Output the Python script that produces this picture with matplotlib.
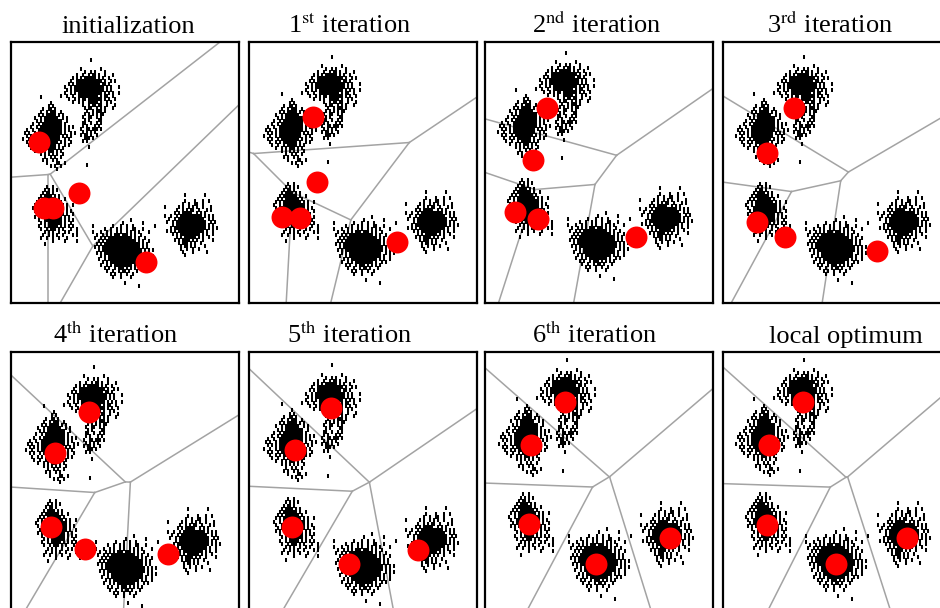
import matplotlib
matplotlib.use('Agg')
import matplotlib.pyplot as plt
import numpy as np

plt.rcParams['font.family'] = ['Liberation Serif', 'DejaVu Serif']
plt.rcParams['mathtext.fontset'] = 'stix'

# point clouds, read off the picture as a rough bitmap: '|' = one dash
# every cell is 2 px wide, 3 px tall, origin given per cluster
TOP_ORIGIN = (50, 15)
TOP = [
    "                              ",
    "               |              ",
    "                              ",
    "                              ",
    "          |         |         ",
    "            |  | |    |       ",
    "        |  |  | || |  |   |   ",
    "      | | | |||||| | |  |     ",
    "     |  ||||||||||||| |  | |  ",
    "    | | |||||||||||| || |     ",
    "  |  | ||||||||||||||| | |   |",
    "   | | ||||||||||||||| | |    ",
    "  |  | | |||||||||||| | | |  |",
    "|  |  |  |||||||||| | ||  |   ",
    "    |  | | || ||||||| | |  |  ",
    "      |  | |  ||||| |  | |    ",
    "           |  | || ||  |   |  ",
    "            | ||  | | |   |   ",
    "             |  | ||| |       ",
    "            | | | | ||        ",
    "           |  ||  | |         ",
    "            | |    ||         ",
    "           ||  |  | |         ",
    "           | |   | |          ",
    "          |  || ||| |         ",
    "           | | | |            ",
    "          | || |  |           ",
    "            ||| |             ",
    "           | |                ",
    "                              ",
    "              |               ",
    "                              ",
    "                              ",
    "                              ",
    "                              ",
    "                              ",
    "             |                ",
]

LEFT_ORIGIN = (12, 55)
LEFT = [
    "         |                 ",
    "                           ",
    "              |            ",
    "             | |           ",
    "          |  || |          ",
    "         |  | |||  |       ",
    "        | | ||||| | |      ",
    "      |  | |||||||  | |    ",
    "       | | |||||||||  |    ",
    "     |  | |||||||||| |     ",
    "    |  | ||||||||||| | | | ",
    "  |  |  |||||||||||| | |   ",
    " | |  | |||||||||||| |  | |",
    "  | | | ||||||||||| | | |  ",
    "|  |  | |||||||||||  | |   ",
    "  | |  | ||||||||| | |  |  ",
    "   |  | | ||||||| |  | |   ",
    "    |  |  | ||||| | |      ",
    "      |  | | ||| | |       ",
    "         | | | | |  |      ",
    "           |  | |  |       ",
    "          | |  | |         ",
    "            |    ||  |     ",
    "              | |  |       ",
    "                 |         ",
]

LOWL_ORIGIN = (22, 145)
LOWL = [
    "       |  |              ",
    "      | | | |            ",
    "     | || |              ",
    "    | |||| | |           ",
    "   | ||||||| |  |        ",
    "  | | ||||||| |          ",
    " | | ||||||||| | |  |    ",
    "|  | ||||||||||| |       ",
    " |  |||||||||||| | |     ",
    "  | |||||||||||| |  |    ",
    " | | |||||||||| | |      ",
    "   |  ||||||||| | | |    ",
    "    | | ||||||| |  |     ",
    "   |  | ||||| | | | |    ",
    "    |  | ||| | |   |  |  ",
    "      | | |  |  | |   |  ",
    "     |  | | |  |    | |  ",
    "    |  |  |  |   |       ",
    "          |     |     |  ",
    "      |                  ",
]

BOTTOM_ORIGIN = (82, 178)
BOTTOM = [
    "                   |             ",
    "               |         |       ",
    "|         |   |  |  |          | ",
    "      |  |  | |  |  ||   |       ",
    "|   |  | |  | |  | | | |    |    ",
    "  |  | | | ||| ||| | |  |        ",
    " |  | | |||||||||||| | |  |      ",
    "   | | ||||||||||||||| | |  |    ",
    "  | | |||||||||||||||||| | |     ",
    " | | ||||||||||||||||||| | |     ",
    "   | |||||||||||||||||||| | | |  ",
    "  | | ||||||||||||||||||| | |    ",
    "    | | ||||||||||||||||  | | |  ",
    "   |  | |||||||||||||||| |  |    ",
    "     | | ||||||||||||| | |  |    ",
    "    |  | | ||||||||| |  | |      ",
    "      | |  | ||| | | | |          ",
    "       |  |  | || |   |          ",
    "         | |  |  |  |            ",
    "          |   |    |             ",
    "                                 ",
    "                |                ",
    "                       |         ",
]

RIGHT_ORIGIN = (152, 153)
RIGHT = [
    "           |         |         ",
    "                               ",
    "           |    |   |  |       ",
    "          |  |  ||  |          ",
    " |      | |  | | |  |   |      ",
    "       |  | | ||  |   | |      ",
    "      | | |||||  | | |         ",
    " |  |  | ||||||||||| | | |     ",
    "   |  | |||||||||||||  | |     ",
    "  |  | |||||||||||||||  | |    ",
    "     | ||||||||||||||| | |     ",
    "    | |||||||||||||||| | | |   ",
    "  | | | ||||||||||||| |  |     ",
    "     | | |||||||||| | |  |     ",
    "       | | |||||| | |  |       ",
    "      | | |||| | |  |    |     ",
    "        | ||| | |  |           ",
    "         | || | |    |         ",
    "         |  |  |  |            ",
    "          |    |      |        ",
    "           |                   ",
]

CLUSTERS = [(TOP, TOP_ORIGIN), (LEFT, LEFT_ORIGIN), (LOWL, LOWL_ORIGIN),
            (BOTTOM, BOTTOM_ORIGIN), (RIGHT, RIGHT_ORIGIN)]

titles = ['initialization', r'1$^{\rm st}$ iteration', r'2$^{\rm nd}$ iteration',
          r'3$^{\rm rd}$ iteration', r'4$^{\rm th}$ iteration', r'5$^{\rm th}$ iteration',
          r'6$^{\rm th}$ iteration', 'local optimum']

# centroid positions per panel (same units as the point clouds)
centroids = [
    [(28.3, 99.7), (33.0, 166.3), (41.7, 166.3), (68.0, 150.7), (134.7, 219.7)],
    [(60.7, 78.0), (65.3, 143.0), (29.7, 178.6), (48.0, 179.6), (144.7, 203.0)],
    [(61.7, 73.6), (47.4, 125.3), (29.7, 177.0), (52.4, 184.3), (150.7, 202.0)],
    [(69.7, 69.0), (42.4, 114.0), (33.0, 182.4), (60.7, 197.4), (153.0, 211.4)],
    [(75.0, 60.6), (40.7, 99.4), (36.4, 169.4), (70.7, 190.8), (154.0, 195.5)],
    [(78.7, 58.4), (43.0, 98.4), (39.7, 171.0), (97.3, 206.6), (165.7, 193.0)],
    [(78.7, 57.4), (44.7, 98.4), (42.1, 173.4), (109.1, 211.0), (183.1, 186.7)],
    [(79.0, 57.9), (44.7, 98.4), (42.4, 174.1), (111.4, 211.0), (183.0, 186.7)],
]

# layout (pixels)
W, H = 940, 608
lefts = [11, 249, 485, 723]
tops = [42, 352]
heights = [261, 276]
pw = 228
view_dx = [0, -3, -0.6, -1.3, -3.3, -3, -1.6, -1.3]
view_dy = [0, 3.3, 7.3, 2.7, 4.1, 5.7, 10.4, 10.4]
title_x = [128, 350, 597, 830, 116, 350, 595, 846]

px, py = [], []
for rows, (x0, y0) in CLUSTERS:
    for r, line in enumerate(rows):
        for c, ch in enumerate(line):
            if ch == '|':
                px.append(x0 + 2 * c)
                py.append(y0 + 3 * r)


def voronoi_edges(C):
    C = np.asarray(C, float)
    segs = []
    n = len(C)
    for i in range(n):
        for j in range(i + 1, n):
            m = (C[i] + C[j]) / 2
            v = C[j] - C[i]
            d = np.array([-v[1], v[0]]) / np.hypot(*v)
            lo, hi = -2000.0, 2000.0
            for k in range(n):
                if k in (i, j):
                    continue
                w = C[k] - C[i]
                a = 2 * d.dot(w)
                b = C[k].dot(C[k]) - C[i].dot(C[i]) - 2 * m.dot(w)
                if abs(a) < 1e-12:
                    if b < 0:
                        lo, hi = 1, 0
                    continue
                if a > 0:
                    hi = min(hi, b / a)
                else:
                    lo = max(lo, b / a)
            if lo < hi:
                segs.append((m + lo * d, m + hi * d))
    return segs


fig = plt.figure(figsize=(W / 100, H / 100), dpi=100)

for p in range(8):
    row, col = divmod(p, 4)
    h = heights[row]
    ax = fig.add_axes([lefts[col] / W, 1 - (tops[row] + h) / H, pw / W, h / H])
    dx, dy = view_dx[p], view_dy[p]
    ax.set_xlim(dx, dx + pw)
    ax.set_ylim(dy + 261, dy)
    for a, b in voronoi_edges(centroids[p]):
        ax.plot([a[0], b[0]], [a[1], b[1]], color='#a3a3a3', lw=1.1, zorder=1)
    ax.plot(px, py, ls='none', marker='|', ms=3.4, mew=1.45, color='black', zorder=2)
    cx, cy = zip(*centroids[p])
    ax.plot(cx, cy, ls='none', marker='o', ms=15.8, color='#ff0000', mec='none', zorder=3)
    ax.set_xticks([])
    ax.set_yticks([])
    for s in ax.spines.values():
        s.set_linewidth(1.6)
        s.set_color('black')
    fig.text(title_x[p] / W, 1 - (tops[row] - 9) / H, titles[p], ha='center',
             va='baseline', fontsize=19)

fig.savefig('out.png', dpi=100)
